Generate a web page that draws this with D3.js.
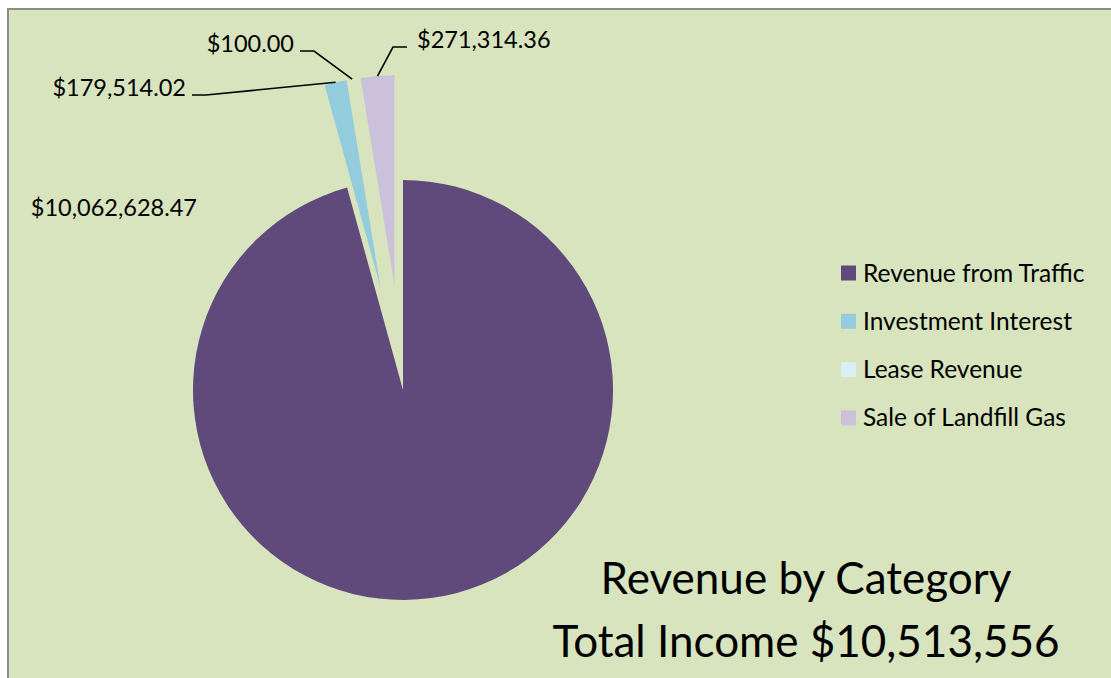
<!DOCTYPE html>
<html>
<head>
<meta charset="utf-8">
<script src="https://cdn.jsdelivr.net/npm/d3@7"></script>
<style>
    body { margin: 0; background: #ffffff; }
    text { font-family: Lato, "Open Sans", sans-serif; fill: #000000; }
</style>
</head>
<body>
<svg id="chart-svg" width="1111" height="678"></svg>
<script>
// Chart data
const categories = ["Revenue from Traffic", "Investment Interest", "Lease Revenue", "Sale of Landfill Gas"];
const values = [10062628.47, 179514.02, 100.00, 271314.36];
const exploded = [false, true, true, true];
const colors = ["#604a7b", "#93cddd", "#dbeef4", "#ccc1da"];
const titleLines = ["Revenue by Category", "Total Income $10,513,556"];

// Where each data label sits (end of text, baseline) and whether it gets a leader line
const labelLayout = [
    {x: 197, y: 216, anchor: "end", leader: false},
    {x: 186, y: 96, anchor: "end", leader: true, elbow: 14},
    {x: 294, y: 52, anchor: "end", leader: true, elbow: 14},
    {x: 417, y: 48, anchor: "start", leader: true, elbow: -14}
];

const width = 1111;
const height = 678;
const center = {x: 403, y: 390};
const radius = 210;
const explodeBy = 105;

const svg = d3.select('#chart-svg');

// Chart area background with top / left frame
svg.append("rect")
    .attr("x", 8)
    .attr("y", 9)
    .attr("width", width)
    .attr("height", height)
    .attr("fill", "#d7e4bd")
    .attr("stroke", "#8c8c8c")
    .attr("stroke-width", 2);

const data = categories.map((c, i) => ({name: c, value: values[i], color: colors[i], exploded: exploded[i]}));

const pie = d3.pie()
    .sort(null)
    .value(d => d.value);

const arcs = pie(data);

const arc = d3.arc()
    .innerRadius(0)
    .outerRadius(radius);

// offset of an exploded slice along its middle angle
const offset = (d) => {
    if (!d.data.exploded) return [0, 0];
    const mid = (d.startAngle + d.endAngle) / 2;
    return [Math.sin(mid) * explodeBy, -Math.cos(mid) * explodeBy];
};

const pieG = svg.append("g")
    .attr("transform", "translate(" + center.x + "," + center.y + ")");

pieG.selectAll("path.slice")
    .data(arcs)
    .join("path")
    .attr("class", "slice")
    .attr("transform", d => "translate(" + offset(d)[0] + "," + offset(d)[1] + ")")
    .attr("fill", d => d.data.color)
    .attr("d", arc);

// Data labels
const fmt = d3.format("$,.2f");

arcs.forEach((d, i) => {
    const lay = labelLayout[i];
    svg.append("text")
        .attr("x", lay.x)
        .attr("y", lay.y)
        .attr("text-anchor", lay.anchor)
        .attr("font-size", 23.5)
        .text(fmt(d.data.value));

    if (lay.leader) {
        const mid = (d.startAngle + d.endAngle) / 2;
        const o = offset(d);
        const px = center.x + o[0] + Math.sin(mid) * radius;
        const py = center.y + o[1] - Math.cos(mid) * radius;
        const sx = lay.anchor === "end" ? lay.x + 6 : lay.x - 10;
        const sy = lay.y - 1;
        svg.append("path")
            .attr("fill", "none")
            .attr("stroke", "#000000")
            .attr("stroke-width", 1.6)
            .attr("d", d3.line()([[sx, sy], [sx + lay.elbow, sy], [px, py]]));
    }
});

// Legend
const legend = svg.append("g")
    .attr("transform", "translate(841, 273)");

const rows = legend.selectAll("g")
    .data(data)
    .join("g")
    .attr("transform", (d, i) => "translate(0," + (i * 48.3) + ")");

rows.append("rect")
    .attr("x", 0)
    .attr("y", -7.5)
    .attr("width", 15)
    .attr("height", 15)
    .attr("fill", d => d.color);

rows.append("text")
    .attr("x", 22)
    .attr("y", 8.5)
    .attr("font-size", 24.5)
    .text(d => d.name);

// Title
svg.selectAll("text.title")
    .data(titleLines)
    .join("text")
    .attr("class", "title")
    .attr("x", 806)
    .attr("y", (d, i) => 594 + i * 63)
    .attr("text-anchor", "middle")
    .attr("font-size", 44)
    .text(d => d);
</script>
</body>
</html>
